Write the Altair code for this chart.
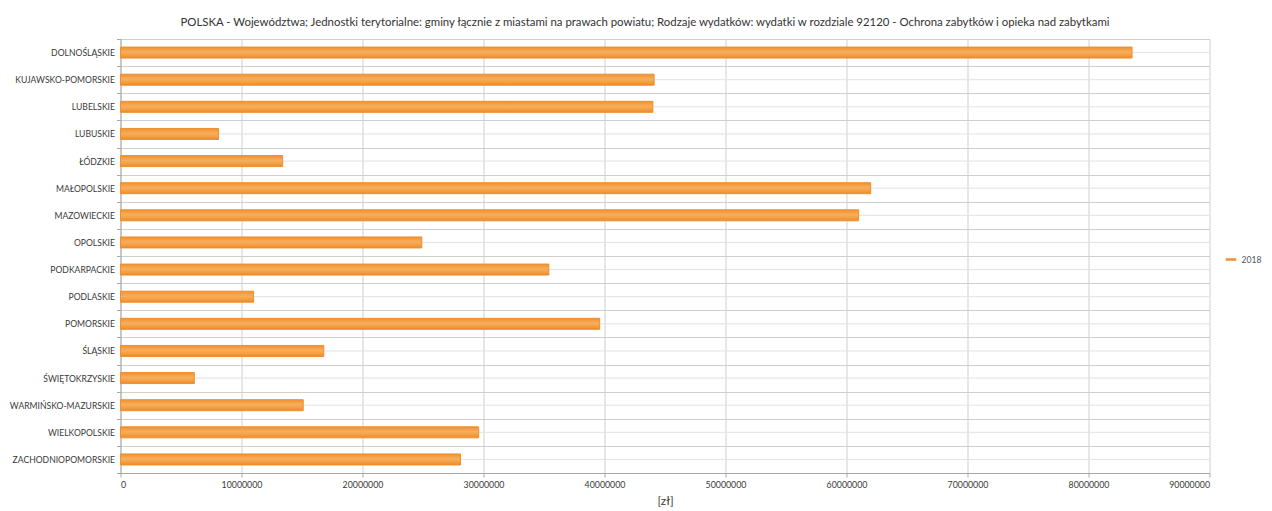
import altair as alt
import pandas as pd

regions = [
    "DOLNOŚLĄSKIE", "KUJAWSKO-POMORSKIE", "LUBELSKIE", "LUBUSKIE", "ŁÓDZKIE",
    "MAŁOPOLSKIE", "MAZOWIECKIE", "OPOLSKIE", "PODKARPACKIE", "PODLASKIE",
    "POMORSKIE", "ŚLĄSKIE", "ŚWIĘTOKRZYSKIE", "WARMIŃSKO-MAZURSKIE",
    "WIELKOPOLSKIE", "ZACHODNIOPOMORSKIE",
]
values_2018 = [
    83600000, 44100000, 44000000, 8100000, 13400000,
    62000000, 61000000, 24900000, 35400000, 11000000,
    39600000, 16800000, 6100000, 15100000,
    29600000, 28100000,
]
series = ["2018"] * len(regions)
x_ticks = [0, 10000000, 20000000, 30000000, 40000000, 50000000,
           60000000, 70000000, 80000000, 90000000]

df = pd.DataFrame({"region": regions, "value": values_2018, "series": series})

FONT = "Lato"

y_enc = alt.Y(
    "region:N",
    sort=regions,
    title=None,
    scale=alt.Scale(paddingInner=0, paddingOuter=0),
    axis=alt.Axis(
        tickBand="extent",
        grid=True,
        gridColor="#CFCFCF",
        gridWidth=1,
        tickColor="#A8A8A8",
        tickSize=4,
        domainColor="#A8A8A8",
        labelFont=FONT,
        labelFontSize=8.6,
        labelColor="#3A3A3A",
        labelPadding=2,
    ),
)

center_lines = alt.Chart(df).mark_rule(color="#E2E2E2", strokeWidth=1).encode(
    y=alt.Y("region:N", sort=regions),
)

bar_fill = alt.Gradient(
    gradient="linear",
    stops=[
        alt.GradientStop(color="#F0922F", offset=0),
        alt.GradientStop(color="#F7AE5C", offset=0.45),
        alt.GradientStop(color="#F39E40", offset=0.75),
        alt.GradientStop(color="#EC8A28", offset=1),
    ],
    x1=0, x2=0, y1=0, y2=1,
)

bars = alt.Chart(df).mark_bar(size=11, fill=bar_fill, strokeWidth=1).encode(
    x=alt.X(
        "value:Q",
        title="[zł]",
        scale=alt.Scale(domain=[0, 90000000], nice=False),
        axis=alt.Axis(
            values=x_ticks,
            format="d",
            grid=True,
            gridColor="#CFCFCF",
            domainColor="#A8A8A8",
            tickColor="#A8A8A8",
            tickSize=4,
            labelFont=FONT,
            labelFontSize=8.8,
            labelColor="#3A3A3A",
            labelPadding=3,
            titleFont=FONT,
            titleFontSize=12,
            titleFontWeight="normal",
            titleColor="#3A3A3A",
            titlePadding=7,
        ),
    ),
    y=y_enc,
    stroke=alt.Stroke(
        "series:N",
        scale=alt.Scale(domain=["2018"], range=["#EE8F30"]),
        legend=alt.Legend(
            title=None,
            orient="none",
            legendX=1104,
            legendY=214,
            padding=0,
            symbolType="stroke",
            symbolSize=110,
            symbolStrokeWidth=2.5,
            symbolStrokeColor="#F39A3A",
            labelOffset=4,
            labelFont=FONT,
            labelFontSize=8.6,
            labelColor="#555555",
        ),
    ),
)

chart = alt.layer(center_lines, bars).properties(
    width=1089,
    height=434,
    autosize=alt.AutoSizeParams(type="none"),
    padding={"left": 112.5, "top": 31, "right": 54, "bottom": 36},
    title=alt.TitleParams(
        "POLSKA - Województwa; Jednostki terytorialne: gminy łącznie z miastami na prawach powiatu; Rodzaje wydatków: wydatki w rozdziale 92120 - Ochrona zabytków i opieka nad zabytkami",
        font=FONT,
        fontSize=11.4,
        fontWeight="normal",
        color="#333333",
        anchor="middle",
        dx=-20,
        offset=7,
    ),
).configure_view(stroke=None)

chart.save("out.html", embed_options={"renderer": "svg", "actions": False})
